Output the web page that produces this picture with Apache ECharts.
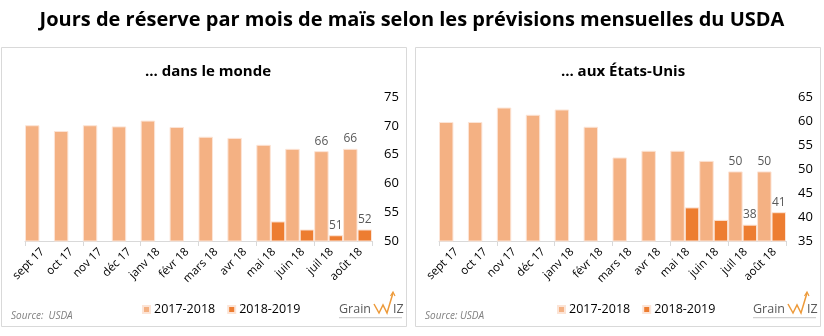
<!DOCTYPE html>
<html><head><meta charset="utf-8">
<script src="https://cdn.jsdelivr.net/npm/echarts@6/dist/echarts.min.js"></script>
<style>html,body{margin:0;padding:0;background:#fff}#c{width:824px;height:336px}</style>
</head><body><div id="c"></div>
<script>
const categories = ['sept 17','oct 17','nov 17','déc 17','janv 18','févr 18','mars 18','avr 18','mai 18','juin 18','juil 18','août 18'];
const mondeLight = [70.1, 69.1, 70.1, 69.9, 70.9, 69.8, 68.1, 67.9, 66.7, 66.0, 65.6, 66.0];
const mondeDark  = [null, null, null, null, null, null, null, null, 53.4, 52.0, 51.0, 52.0];
const usaLight   = [59.8, 59.8, 62.8, 61.3, 62.4, 58.8, 52.4, 53.8, 53.8, 51.7, 49.5, 49.5];
const usaDark    = [null, null, null, null, null, null, null, null, 42.0, 39.4, 38.4, 41.0];
const labelIdx = [10, 11];
const mondeTicks = [50, 55, 60, 65, 70, 75];
const usaTicks = [35, 40, 45, 50, 55, 60, 65];
const seriesNames = ['2017-2018', '2018-2019'];
const FONT = '"Open Sans", "Noto Sans", sans-serif';
const LIGHT = '#F4B183', DARK = '#ED7D31';

function withLabels(arr) {
  return arr.map((v, i) => labelIdx.includes(i) && v != null
    ? { value: v, label: { show: true, position: 'top', distance: 4, color: '#595959', fontSize: 12, fontFamily: FONT, formatter: p => Math.round(p.value) } }
    : v);
}

const chart = echarts.init(document.getElementById('c'), null, { renderer: 'canvas' });

function makeX(gi) {
  return {
    type: 'category', gridIndex: gi, data: categories,
    axisLine: { lineStyle: { color: '#d9d9d9' } },
    axisTick: { show: true, length: 5, lineStyle: { color: '#d9d9d9' } },
    axisLabel: { show: false }
  };
}
function makeY(gi, ticks) {
  return {
    type: 'value', gridIndex: gi, position: 'right',
    min: ticks[0], max: ticks[ticks.length - 1], interval: 5,
    splitLine: { show: false }, axisLine: { show: false }, axisTick: { show: false },
    axisLabel: { color: '#000', fontSize: 13, fontFamily: FONT, margin: 12 }
  };
}
function bar(name, data, color, gi) {
  return {
    name, type: 'bar', xAxisIndex: gi, yAxisIndex: gi, data: withLabels(data),
    barGap: '0%', barCategoryGap: '0%',
    itemStyle: { color, borderColor: '#fce4d6', borderWidth: 1 }
  };
}

const staticGraphics = [
  { type: 'rect', shape: { x: 1.5, y: 47.5, width: 405, height: 279 }, style: { fill: 'none', stroke: '#d9d9d9', lineWidth: 1 }, z: -1 },
  { type: 'rect', shape: { x: 415.5, y: 47.5, width: 405, height: 279 }, style: { fill: 'none', stroke: '#d9d9d9', lineWidth: 1 }, z: -1 },
  { type: 'text', left: 11, top: 311, style: { text: 'Source:  USDA', font: 'italic 10px ' + FONT, fill: '#7f7f7f' } },
  { type: 'text', left: 425, top: 311, style: { text: 'Source: USDA', font: 'italic 10px ' + FONT, fill: '#7f7f7f' } },
  ...[339, 753].map(x0 => ({
    type: 'group', x: x0, y: 290, children: [
      { type: 'text', x: 0, y: 19.5, style: { text: 'Grain', font: '12.5px ' + FONT, fill: '#595959', verticalAlign: 'middle' } },
      { type: 'polyline', shape: { points: [[35, 14], [40, 23], [44, 15], [48, 23], [54, 3]] }, style: { stroke: '#ED9A3A', lineWidth: 1.5, fill: 'none' } },
      { type: 'polyline', shape: { points: [[51.5, 6], [54, 2], [56, 6]] }, style: { stroke: '#ED9A3A', lineWidth: 1.2, fill: 'none' } },
      { type: 'text', x: 54, y: 19.5, style: { text: 'IZ', font: '12.5px ' + FONT, fill: '#595959', verticalAlign: 'middle' } },
      { type: 'rect', shape: { x: 0, y: 27, width: 63, height: 1.2 }, style: { fill: '#d0d0d0' } }
    ]
  }))
];

chart.setOption({
  animation: false,
  backgroundColor: '#fff',
  title: [
    { text: 'Jours de réserve par mois de maïs selon les prévisions mensuelles du USDA', left: 'center', top: 5,
      textStyle: { fontFamily: FONT, fontWeight: 'bold', fontSize: 20, color: '#000' } },
    { text: '... dans le monde', left: 203, textAlign: 'center', top: 59,
      textStyle: { fontFamily: FONT, fontWeight: 'bold', fontSize: 15, color: '#000' } },
    { text: '... aux États-Unis', left: 618, textAlign: 'center', top: 59,
      textStyle: { fontFamily: FONT, fontWeight: 'bold', fontSize: 15, color: '#000' } }
  ],
  legend: [
    { data: seriesNames, left: 137, top: 298, itemWidth: 7, itemHeight: 7, itemGap: 12, icon: 'rect',
      textStyle: { fontFamily: FONT, fontSize: 12.5, color: '#000', padding: [0, 0, 0, -1] } },
    { data: seriesNames, left: 552, top: 298, itemWidth: 7, itemHeight: 7, itemGap: 12, icon: 'rect',
      textStyle: { fontFamily: FONT, fontSize: 12.5, color: '#000', padding: [0, 0, 0, -1] } }
  ],
  grid: [
    { left: 25, width: 347, top: 97, height: 144 },
    { left: 439, width: 347, top: 97, height: 144 }
  ],
  xAxis: [makeX(0), makeX(1)],
  yAxis: [makeY(0, mondeTicks), makeY(1, usaTicks)],
  series: [
    bar(seriesNames[0], mondeLight, LIGHT, 0),
    bar(seriesNames[1], mondeDark, DARK, 0),
    bar(seriesNames[0], usaLight, LIGHT, 1),
    bar(seriesNames[1], usaDark, DARK, 1)
  ],
  graphic: { elements: staticGraphics }
});

// Rotated category labels placed via the library's own axis scales
const labelGraphics = [];
[[0, mondeTicks[0]], [1, usaTicks[0]]].forEach(([gi, yMin]) => {
  const baseY = chart.convertToPixel({ yAxisIndex: gi }, yMin);
  categories.forEach(cat => {
    const cx = chart.convertToPixel({ xAxisIndex: gi }, cat);
    labelGraphics.push({
      type: 'text', x: cx + 3, y: baseY + 9, rotation: Math.PI / 4,
      style: { text: cat, font: '11.5px ' + FONT, fill: '#000', align: 'right', verticalAlign: 'middle' }
    });
  });
});
chart.setOption({ graphic: { elements: staticGraphics.concat(labelGraphics) } }, { replaceMerge: ['graphic'] });
</script></body></html>
